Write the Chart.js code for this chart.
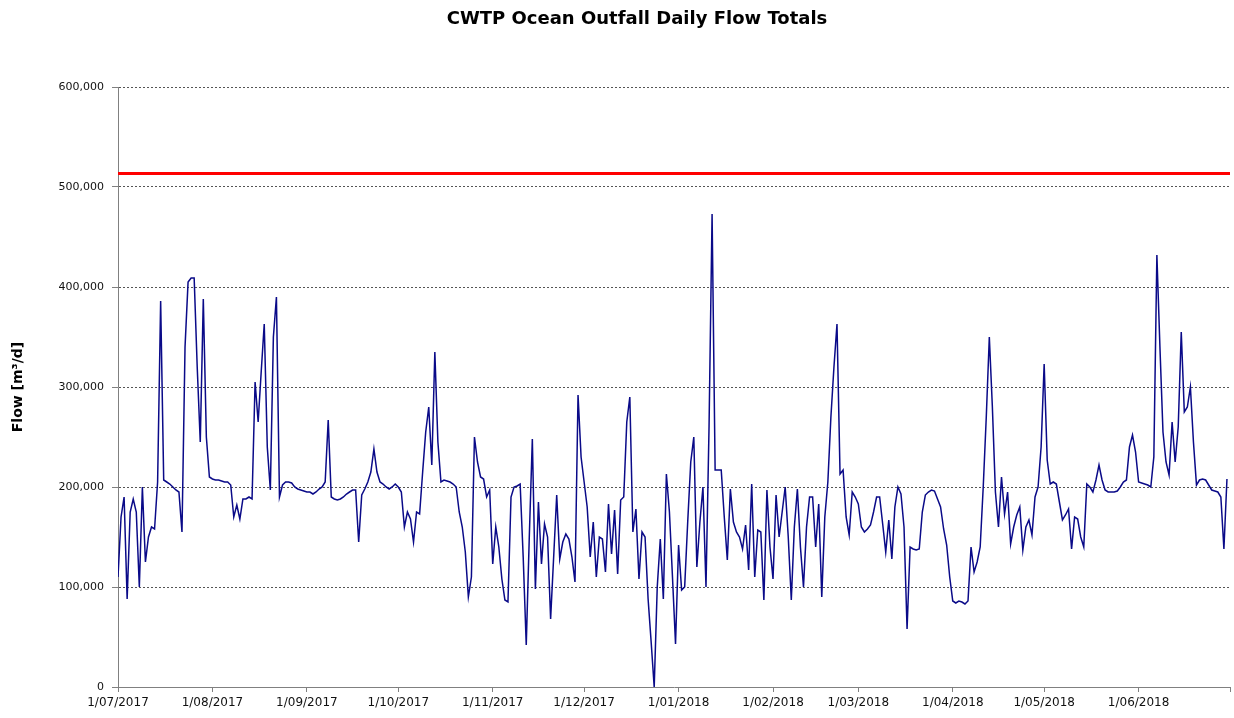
<!DOCTYPE html>
<html>
<head>
<meta charset="utf-8">
<title>CWTP Ocean Outfall Daily Flow Totals</title>
<script src="https://cdn.jsdelivr.net/npm/chart.js@4.4.1/dist/chart.umd.min.js"></script>
<style>
  html, body { margin: 0; padding: 0; background: #fff; }
  #wrap { width: 1234px; height: 718px; }
</style>
</head>
<body>
<div id="wrap"><canvas id="flowChart" width="1234" height="718"></canvas></div>
<script>
// Daily outfall flow, thousands of m3/d, one array per month (1/07/2017 - 30/06/2018)
const jul2017 = [110,170,190,88,175,188,175,100,200,125,150,160,158,205,386,207,205,203,200,197,195,155,340,405,409,409,320,245,388,250,210];
const aug2017 = [208,207,207,206,205,205,202,170,182,168,188,188,190,188,305,265,315,363,240,197,350,390,190,202,205,205,204,200,198,197,196];
const sep2017 = [195,195,193,195,198,200,205,267,190,188,187,188,190,193,195,197,197,145,192,198,205,215,238,215,205,203,200,198,200,203];
const oct2017 = [200,195,160,175,168,145,175,173,215,255,280,222,335,245,205,207,206,205,203,200,175,160,135,90,110,250,225,210,208,190,197];
const nov2017 = [123,160,140,108,87,85,190,200,201,203,130,42,150,248,98,185,123,163,150,68,130,192,128,145,153,148,130,105,292,230];
const dec2017 = [205,180,130,165,110,150,148,115,183,133,177,113,187,190,265,290,155,178,108,155,150,88,45,0,100,148,88,213,175,110,43];
const jan2018 = [142,97,100,165,225,250,120,165,200,100,260,473,217,217,217,170,127,198,165,155,150,138,162,117,203,110,157,155,87,197,140];
const feb2018 = [108,192,150,175,200,150,87,160,198,140,100,160,190,190,140,183,90,170,205,270,320,363,213,217,170,152,195,190];
const mar2018 = [183,160,155,158,162,175,190,190,163,135,167,128,180,200,193,160,58,140,138,137,138,175,192,195,197,196,188,180,158,142,110];
const apr2018 = [86,84,86,85,83,86,140,115,125,140,200,270,350,280,195,160,210,173,195,143,160,172,180,137,160,167,152,190,200,240];
const may2018 = [323,227,203,205,203,185,167,172,178,138,170,168,150,140,203,200,195,207,222,207,197,195,195,195,196,200,205,207,240,252,235];
const jun2018 = [205,204,203,202,200,230,432,340,255,225,212,265,225,260,355,275,280,300,245,202,207,208,207,202,197,196,195,190,138,208];

// x axis: day number from 1/07/2017 where each month starts
const monthTickDays = [0, 31, 62, 92, 123, 153, 184, 215, 243, 274, 304, 335, 365];
const monthTickLabels = ['1/07/2017', '1/08/2017', '1/09/2017', '1/10/2017', '1/11/2017', '1/12/2017',
  '1/01/2018', '1/02/2018', '1/03/2018', '1/04/2018', '1/05/2018', '1/06/2018', ''];

const outfallLimit = 513600;
const chartTitle = 'CWTP Ocean Outfall Daily Flow Totals';

const dailyFlow = [].concat(jul2017, aug2017, sep2017, oct2017, nov2017, dec2017,
  jan2018, feb2018, mar2018, apr2018, may2018, jun2018);
const flowPoints = dailyFlow.map((v, i) => ({ x: i, y: v * 1000 }));
const limitPoints = [
  { x: monthTickDays[0], y: outfallLimit },
  { x: monthTickDays[monthTickDays.length - 1], y: outfallLimit }
];

const FONT = '"DejaVu Sans", Verdana, sans-serif';

// title drawn by hand so it sits where the original has it
const titlePlugin = {
  id: 'sheetTitle',
  afterDraw(chart) {
    const ctx = chart.ctx;
    ctx.save();
    ctx.font = 'bold 18px ' + FONT;
    ctx.fillStyle = '#000';
    ctx.textAlign = 'center';
    ctx.textBaseline = 'middle';
    ctx.fillText(chartTitle, 637, 19);
    ctx.restore();
  }
};

new Chart(document.getElementById('flowChart'), {
  type: 'line',
  data: {
    datasets: [
      {
        label: 'Daily flow',
        data: flowPoints,
        borderColor: '#0a0a88',
        borderWidth: 1.5,
        pointRadius: 0,
        tension: 0,
        fill: false
      },
      {
        label: 'Limit',
        data: limitPoints,
        borderColor: '#ff0000',
        borderWidth: 3,
        pointRadius: 0,
        fill: false
      }
    ]
  },
  plugins: [titlePlugin],
  options: {
    responsive: false,
    animation: false,
    devicePixelRatio: 1,
    layout: { padding: { top: 87, right: 2, left: 0, bottom: 0 } },
    plugins: {
      legend: { display: false },
      tooltip: { enabled: false },
      title: { display: false }
    },
    scales: {
      x: {
        type: 'linear',
        min: monthTickDays[0],
        max: monthTickDays[monthTickDays.length - 1],
        afterBuildTicks: (scale) => {
          scale.ticks = monthTickDays.map(d => ({ value: d }));
        },
        afterFit: (scale) => { scale.height = 31; },
        grid: {
          drawOnChartArea: false,
          drawTicks: true,
          tickLength: 5,
          tickColor: '#808080'
        },
        border: { display: true, color: '#808080', width: 1 },
        ticks: {
          autoSkip: false,
          maxRotation: 0,
          padding: 4,
          color: '#111',
          font: { family: FONT, size: 12 },
          callback: (value) => {
            const i = monthTickDays.indexOf(value);
            return i >= 0 ? monthTickLabels[i] : '';
          }
        }
      },
      y: {
        min: 0,
        max: 600000,
        afterFit: (scale) => { scale.width = 118; },
        grid: {
          color: '#555',
          lineWidth: 1,
          tickLength: 6,
          tickColor: '#808080'
        },
        border: { display: true, color: '#808080', width: 1, dash: [2, 2] },
        ticks: {
          stepSize: 100000,
          padding: 8,
          color: '#111',
          font: { family: FONT, size: 11 },
          callback: (value) => value.toLocaleString('en-US')
        },
        title: {
          display: true,
          text: 'Flow [m³/d]',
          color: '#000',
          padding: { top: 10 },
          font: { family: FONT, size: 14, weight: 'bold' }
        }
      }
    }
  }
});
</script>
</body>
</html>
